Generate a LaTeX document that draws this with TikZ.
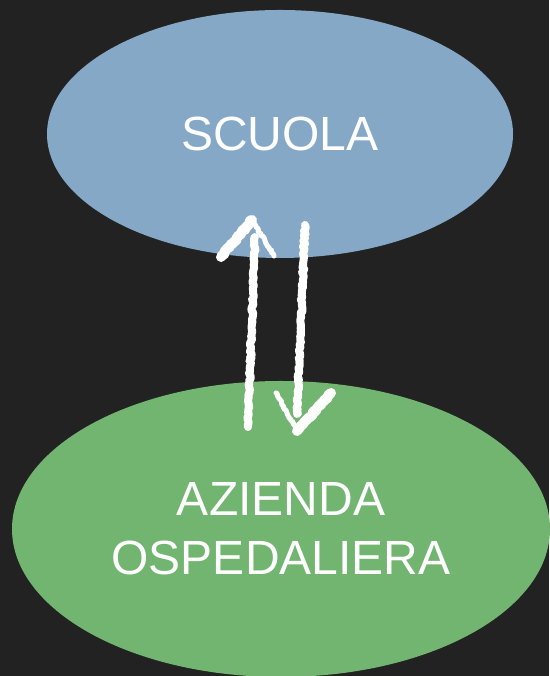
\documentclass[tikz,border=0pt]{standalone}
\usepackage{fontspec}
\setmainfont{Liberation Sans}
\usetikzlibrary{shapes.geometric,decorations.pathmorphing}
\definecolor{board}{HTML}{222222}
\definecolor{schoolblue}{HTML}{84A8C6}
\definecolor{hospgreen}{HTML}{72B570}
\tikzset{
 blob/.style={ellipse,inner sep=0pt,text=white,align=center,
  font=\fontsize{48}{59}\selectfont},
 chalk/.style={draw=white,line width=8pt,line cap=round,line join=round,
  decorate,decoration={random steps,segment length=2pt,amplitude=1pt}},
 chalkhead/.style={chalk,line width=10pt}
}
\begin{document}
\begin{tikzpicture}[x=1pt,y=1pt]
 \pgfmathsetseed{7}
 \fill[board](0,0) rectangle (549,676);
 \useasboundingbox (0,0) rectangle (549,676);
 \node[blob,fill=schoolblue,minimum width=466pt,minimum height=248pt] (scuola) at (280,542) {SCUOLA};
 \node[blob,fill=hospgreen,minimum width=538pt,minimum height=296pt] (azienda) at (281,147) {AZIENDA\\OSPEDALIERA};
 % up arrow
 \coordinate (up-start) at (248,249);
 \coordinate (up-end) at (255,439);
 \coordinate (up-tip) at (252,456);
 \coordinate (up-l) at (221,419);
 \coordinate (up-r) at (274,420);
 \draw[chalk] (up-start) -- (up-end);
 \draw[chalkhead] (up-l) -- (up-tip);
 \draw[chalk,line width=5pt] (up-tip) -- (up-r);
 % down arrow
 \coordinate (down-start) at (305,451);
 \coordinate (down-end) at (297,262);
 \coordinate (down-tip) at (297,245);
 \coordinate (down-l) at (276,283);
 \coordinate (down-r) at (331,283);
 \draw[chalk] (down-start) -- (down-end);
 \draw[chalk,line width=5pt] (down-l) -- (down-tip);
 \draw[chalkhead] (down-tip) -- (down-r);
\end{tikzpicture}
\end{document}
